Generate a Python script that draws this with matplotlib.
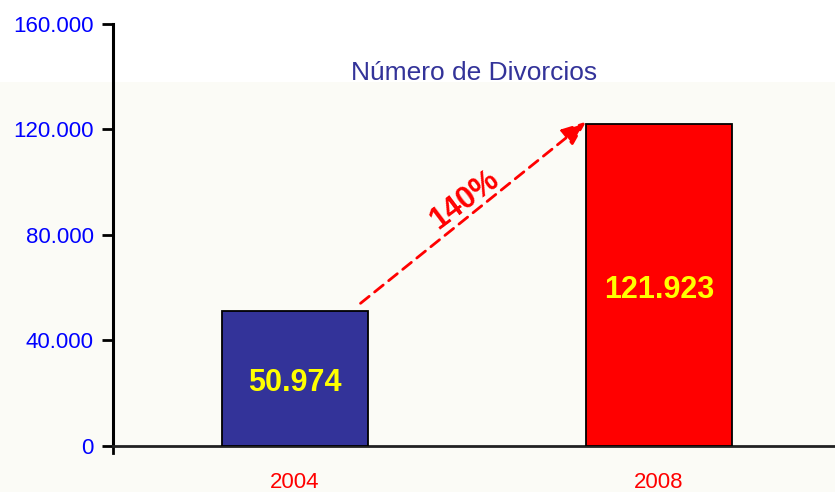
import matplotlib
matplotlib.use("Agg")
import matplotlib.pyplot as plt
from matplotlib.patches import Rectangle
from matplotlib.ticker import FuncFormatter

categories = ["2004", "2008"]
values = [50974, 121923]
bar_colors = ["#333399", "#FF0000"]
value_labels = ["50.974", "121.923"]
growth_label = "140%"
title = "Número de Divorcios"
yticks = [0, 40000, 80000, 120000, 160000]

W, H = 835, 492
fig = plt.figure(figsize=(W / 100, H / 100), dpi=100)
fig.patch.set_facecolor("white")
# slide background band
fig.patches.append(Rectangle((0, 0), 1, (H - 82) / H, transform=fig.transFigure,
                             facecolor="#fbfbf6", edgecolor="none", zorder=-10))

ax = fig.add_axes([113 / W, (H - 445.5) / H, 728 / W, 421.5 / H])
ax.set_facecolor("none")

x = list(range(len(categories)))
ax.bar(x, values, width=0.4, color=bar_colors, edgecolor="black", linewidth=1.3, zorder=3)
ax.set_xlim(-0.5, 1.5)
ax.set_ylim(0, 160000)

ax.set_yticks(yticks)
ax.yaxis.set_major_formatter(FuncFormatter(lambda v, p: f"{int(v):,}".replace(",", ".")))
ax.set_xticks(x)
ax.set_xticklabels(categories)

lab_font = ["Liberation Sans", "DejaVu Sans"]
for t in ax.get_yticklabels():
    t.set_color("#0000FF"); t.set_fontsize(16); t.set_family(lab_font)
for t in ax.get_xticklabels():
    t.set_color("#FF0000"); t.set_fontsize(16); t.set_family(lab_font)

ax.tick_params(axis="y", length=8, width=2, pad=6, direction="out")
ax.tick_params(axis="x", length=0, pad=19)
ax.spines["top"].set_visible(False)
ax.spines["right"].set_visible(False)
ax.spines["left"].set_linewidth(2.2)
ax.spines["bottom"].set_linewidth(2)
ax.spines["bottom"].set_color("#222222")
# small tick below the origin
ax.plot([-0.5, -0.5], [0, -3000], color="black", lw=2, clip_on=False)

bold_font = ["Liberation Sans", "DejaVu Sans"]
for xi, lab, v in zip(x, value_labels, values):
    ax.annotate(lab, (xi, v * 0.5), xytext=(0, -13), textcoords="offset pixels",
                ha="center", va="baseline", color="#FFFF00",
                fontsize=22, fontweight="bold", family=bold_font, zorder=4)

ax.annotate("", xy=(x[1] - 0.2, values[1] + 1000), xytext=(x[0] + 0.18, values[0] + 3000),
            arrowprops=dict(arrowstyle="-|>,head_length=1.5,head_width=0.6", color="#FF0000",
                            lw=2, linestyle=(0, (4, 2.5)), shrinkA=0, shrinkB=0), zorder=5)
ax.text(0.465, 93000, growth_label, rotation=37, ha="center", va="center", color="#FF0000",
        fontsize=22, fontweight="bold", family=bold_font, rotation_mode="anchor", zorder=5)

fig.text(474 / W, 1 - 73 / H, title, ha="center", va="center", color="#333399",
         fontsize=19, family=lab_font)

fig.savefig("out.png", dpi=100)
